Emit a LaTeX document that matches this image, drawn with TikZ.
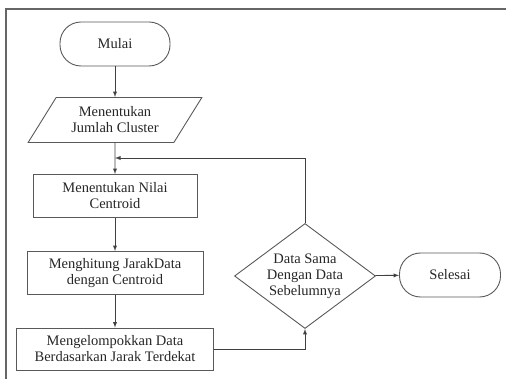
\documentclass[tikz,border=0pt]{standalone}
\usepackage{fontspec}
\setmainfont{Liberation Serif}
\usetikzlibrary{shapes,arrows,positioning}

\begin{document}
\begin{tikzpicture}[x=1pt,y=-1pt]
		\tikzstyle{Base}	= [draw=black!65, line width=0.9pt, align=center, text=black!85, font=\fontsize{14.5}{16}\selectfont, inner sep=1pt]
		\tikzstyle{Term}	= [Base, rectangle, rounded corners=21pt, minimum height=44pt]
		\tikzstyle{Proc}	= [Base, rectangle, minimum height=43pt]
		\tikzstyle{Input}	= [Base, trapezium, trapezium left angle=53, trapezium right angle=127, trapezium stretches=true, minimum width=174pt, minimum height=45pt]
		\tikzstyle{Decide}	= [Base, diamond, aspect=1.34, inner sep=0pt, minimum width=141pt, minimum height=105pt]
		\tikzstyle{Flow}	= [draw=black!75, line width=0.9pt, -latex]

		\useasboundingbox (0,0) rectangle (506,379);
		% frame of the figure
		\draw [black!60, line width=1.2pt] (6,379) -- (6,9) -- (506,9);

		\node (start) at (115,44) [Term, minimum width=110pt] {Mulai};
		\node (k) at (115,120) [Input] {Menentukan\\Jumlah Cluster};
		\node (cent) at (115,196) [Proc, minimum width=164pt] {Menentukan Nilai\\Centroid};
		\node (dist) at (115,273) [Proc, minimum width=176pt] {Menghitung JarakData\\dengan Centroid};
		\node (grp) at (115,349) [Proc, minimum width=197pt, minimum height=42pt] {Mengelompokkan Data\\Berdasarkan Jarak Terdekat};
		\node (same) at (305,276) [Decide] {Data Sama\\Dengan Data\\Sebelumnya};
		\node (stop) at (450,275) [Term, minimum width=101pt] {Selesai};
		\coordinate (back) at (115,158);

		\draw (start) to (k) [Flow];
		\draw (k) to (cent) [Flow];
		\draw (cent) to (dist) [Flow];
		\draw (dist) to (grp) [Flow];
		\draw (grp.east) -| (same.south) [Flow];
		\draw (same.north) |- (back) [Flow];
		\draw (same) to (stop) [Flow];
	\end{tikzpicture}
\end{document}
